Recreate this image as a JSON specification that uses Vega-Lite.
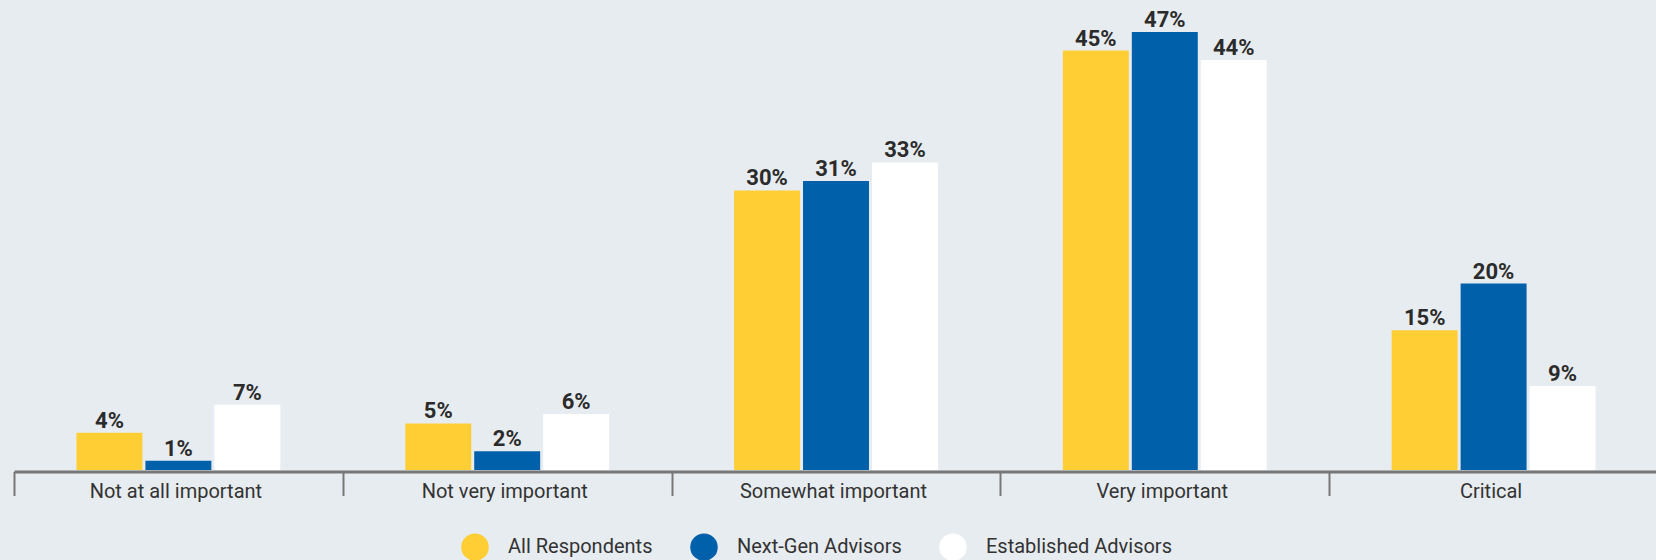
{
  "$schema": "https://vega.github.io/schema/vega-lite/v6.json",
  "width": 1644,
  "height": 466,
  "autosize": "none",
  "padding": {"left": 14, "top": 4, "right": 0, "bottom": 90},
  "background": "#e7ecf0",
  "config": {
    "view": {"stroke": null},
    "font": "Roboto"
  },
  "data": {
    "values": [
      {"category": "Not at all important", "series": "All Respondents", "value": 0.04},
      {"category": "Not at all important", "series": "Next-Gen Advisors", "value": 0.01},
      {"category": "Not at all important", "series": "Established Advisors", "value": 0.07},
      {"category": "Not very important", "series": "All Respondents", "value": 0.05},
      {"category": "Not very important", "series": "Next-Gen Advisors", "value": 0.02},
      {"category": "Not very important", "series": "Established Advisors", "value": 0.06},
      {"category": "Somewhat important", "series": "All Respondents", "value": 0.30},
      {"category": "Somewhat important", "series": "Next-Gen Advisors", "value": 0.31},
      {"category": "Somewhat important", "series": "Established Advisors", "value": 0.33},
      {"category": "Very important", "series": "All Respondents", "value": 0.45},
      {"category": "Very important", "series": "Next-Gen Advisors", "value": 0.47},
      {"category": "Very important", "series": "Established Advisors", "value": 0.44},
      {"category": "Critical", "series": "All Respondents", "value": 0.15},
      {"category": "Critical", "series": "Next-Gen Advisors", "value": 0.20},
      {"category": "Critical", "series": "Established Advisors", "value": 0.09}
    ]
  },
  "encoding": {
    "x": {
      "field": "category",
      "type": "nominal",
      "sort": ["Not at all important", "Not very important", "Somewhat important", "Very important", "Critical"],
      "scale": {"paddingInner": 0, "paddingOuter": 0},
      "axis": {
        "title": null,
        "labelAngle": 0,
        "labelLimit": 0,
        "labelFont": "Roboto",
        "labelFontSize": 20,
        "labelColor": "#333333",
        "labelBaseline": "alphabetic",
        "labelPadding": 1.5,
        "labelOffset": -3,
        "domainColor": "#777777",
        "domainWidth": 3,
        "tickColor": "#777777",
        "tickWidth": 2,
        "tickSize": 24,
        "tickBand": "extent",
        "offset": 1.5
      }
    },
    "xOffset": {
      "field": "series",
      "type": "nominal",
      "sort": ["All Respondents", "Next-Gen Advisors", "Established Advisors"],
      "scale": {"paddingInner": 0.0435, "paddingOuter": 0.906}
    },
    "y": {
      "field": "value",
      "type": "quantitative",
      "scale": {"domain": [0, 0.5], "nice": false, "zero": true},
      "axis": null
    }
  },
  "layer": [
    {
      "mark": {"type": "bar"},
      "encoding": {
        "color": {
          "field": "series",
          "type": "nominal",
          "sort": ["All Respondents", "Next-Gen Advisors", "Established Advisors"],
          "scale": {
            "domain": ["All Respondents", "Next-Gen Advisors", "Established Advisors"],
            "range": ["#ffce34", "#0060aa", "#ffffff"]
          },
          "legend": {
            "title": null,
            "orient": "none",
            "direction": "horizontal",
            "legendX": 447,
            "legendY": 529,
            "symbolType": "circle",
            "symbolSize": 756,
            "symbolStrokeWidth": 0,
            "symbolOpacity": 1,
            "labelFont": "Roboto",
            "labelFontSize": 20,
            "labelColor": "#333333",
            "labelOffset": 19,
            "columnPadding": 37,
            "labelLimit": 0
          }
        }
      }
    },
    {
      "mark": {
        "type": "text",
        "baseline": "alphabetic",
        "dy": -5,
        "font": "Roboto",
        "fontSize": 22,
        "fontWeight": "bold",
        "color": "#2b2b2b"
      },
      "encoding": {
        "text": {"field": "value", "type": "quantitative", "format": ".0%"}
      }
    }
  ]
}
